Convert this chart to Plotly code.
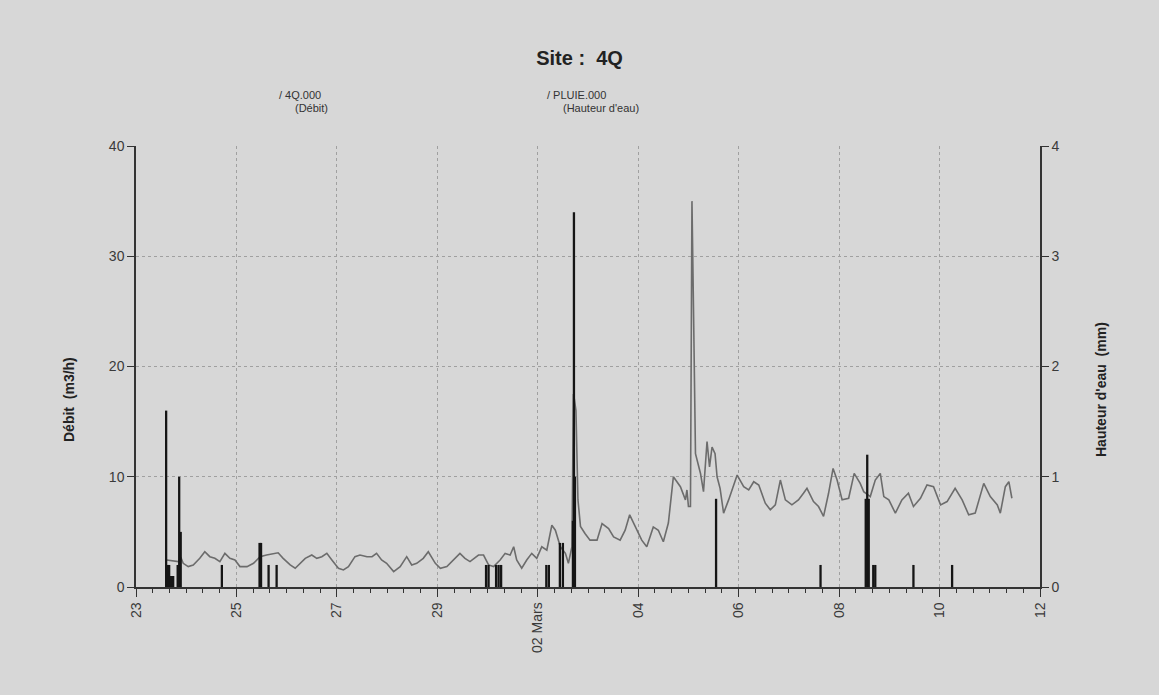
import pandas as pd
import plotly.graph_objects as go

START = pd.Timestamp("2008-02-23")

# Débit (m3/h) – time in days since 23 Feb 00:00
debit_days = [0.61, 0.75, 0.84, 0.90, 0.94, 1.04, 1.14, 1.27, 1.37, 1.47, 1.57, 1.67, 1.77, 1.87, 1.97,
              2.07, 2.21, 2.34, 2.47, 2.60, 2.74, 2.83, 2.93, 3.07, 3.17, 3.27, 3.37, 3.50, 3.60, 3.70,
              3.80, 3.90, 4.03, 4.13, 4.23, 4.36, 4.46, 4.60, 4.70, 4.79, 4.89, 4.99, 5.13, 5.26, 5.39,
              5.49, 5.59, 5.72, 5.82, 5.96, 6.06, 6.19, 6.32, 6.45, 6.55, 6.65, 6.82, 6.92, 7.02, 7.12,
              7.25, 7.35, 7.45, 7.52, 7.58, 7.68, 7.78, 7.88, 7.98, 8.08, 8.18, 8.28, 8.35, 8.45, 8.55,
              8.61, 8.68, 8.71, 8.73, 8.76, 8.80, 8.85, 8.94, 9.04, 9.18, 9.28, 9.41, 9.51, 9.64, 9.74,
              9.83, 9.94, 10.07, 10.17, 10.30, 10.40, 10.50, 10.60, 10.70, 10.84, 10.94, 10.97, 11.00,
              11.04, 11.07, 11.10, 11.14, 11.24, 11.30, 11.37, 11.42, 11.47, 11.53, 11.57, 11.63, 11.70,
              11.80, 11.97, 12.10, 12.20, 12.30, 12.40, 12.53, 12.63, 12.73, 12.83, 12.93, 13.06, 13.19,
              13.29, 13.36, 13.49, 13.59, 13.69, 13.79, 13.88, 13.96, 14.06, 14.19, 14.30, 14.42, 14.49,
              14.62, 14.72, 14.82, 14.89, 14.99, 15.12, 15.25, 15.38, 15.48, 15.62, 15.75, 15.88, 16.02,
              16.15, 16.31, 16.45, 16.58, 16.71, 16.88, 17.01, 17.15, 17.21, 17.31, 17.38, 17.44]
debit_vals = [2.45, 2.4, 2.3, 2.6, 2.15, 1.85, 2.0, 2.6, 3.2, 2.75, 2.6, 2.3, 3.05, 2.6, 2.45,
              1.85, 1.85, 2.15, 2.75, 2.9, 3.05, 3.1, 2.6, 2.0, 1.7, 2.15, 2.6, 2.9, 2.6, 2.75,
              3.05, 2.45, 1.7, 1.55, 1.85, 2.75, 2.9, 2.75, 2.75, 3.05, 2.45, 2.15, 1.4, 1.85, 2.75,
              2.0, 2.15, 2.6, 3.2, 2.15, 1.7, 1.85, 2.45, 3.05, 2.6, 2.3, 2.9, 2.9, 2.0, 1.85,
              2.45, 3.05, 2.9, 3.65, 2.45, 1.7, 2.45, 3.05, 2.6, 3.65, 3.35, 5.6, 5.15, 3.65, 3.05,
              2.15, 3.65, 17.5, 17.0, 16.0, 7.9, 5.5, 4.85, 4.25, 4.25, 5.75, 5.3, 4.55, 4.25, 5.15,
              6.55, 5.45, 4.25, 3.65, 5.45, 5.15, 4.1, 5.8, 10.0, 9.1, 7.9, 8.8, 7.3,
              7.3, 35.0, 25.4, 12.1, 10.3, 8.65, 13.2, 10.9, 12.7, 12.1, 10.0, 8.95, 6.7,
              7.9, 10.15, 9.1, 8.8, 9.55, 9.25, 7.6, 7.0, 7.45, 9.7, 7.9, 7.45, 7.9,
              8.5, 8.95, 7.75, 7.3, 6.4, 8.5, 10.75, 9.7, 7.9, 8.05, 10.3, 9.4, 8.65,
              8.2, 9.7, 10.3, 8.2, 7.9, 6.7, 7.9, 8.5, 7.3, 8.05, 9.25, 9.1, 7.45,
              7.75, 8.95, 7.9, 6.55, 6.7, 9.4, 8.2, 7.45, 6.7, 9.1, 9.55, 8.05]

# Pluie (mm) – time in days since 23 Feb 00:00
pluie_days = [0.60, 0.63, 0.66, 0.70, 0.74, 0.83, 0.86, 0.89, 1.71, 2.46, 2.49, 2.64, 2.80,
              6.97, 7.02, 7.17, 7.22, 7.27, 8.17, 8.22, 8.44, 8.50, 8.70, 8.72, 8.74,
              11.55, 13.63, 14.53, 14.56, 14.59, 14.68, 14.72, 15.48, 16.25]
pluie_vals = [1.6, 0.2, 0.2, 0.1, 0.1, 0.2, 1.0, 0.5, 0.2, 0.4, 0.4, 0.2, 0.2,
              0.2, 0.2, 0.2, 0.2, 0.2, 0.2, 0.2, 0.4, 0.4, 0.6, 3.4, 1.0,
              0.8, 0.2, 0.8, 1.2, 0.8, 0.2, 0.2, 0.2, 0.2]

tick_days = [0, 2, 4, 6, 8, 10, 12, 14, 16, 18]
tick_text = ["23", "25", "27", "29", "02 Mars", "04", "06", "08", "10", "12"]

to_dt = lambda d: START + pd.to_timedelta(d, unit="D")
debit_x = [to_dt(d) for d in debit_days]
pluie_x = [to_dt(d) for d in pluie_days]
tick_x = [to_dt(d) for d in tick_days]

BG = "#d7d7d7"
FONT = "Arial, Liberation Sans, sans-serif"

fig = go.Figure()
fig.add_trace(go.Scatter(x=debit_x, y=debit_vals, mode="lines", name="4Q.000 (Débit)",
                         line=dict(color="#6c6c6c", width=1.6), showlegend=False))
fig.add_trace(go.Bar(x=pluie_x, y=pluie_vals, yaxis="y2", name="PLUIE.000 (Hauteur d'eau)",
                     width=1.1 * 3600 * 1000, marker=dict(color="#151515", line=dict(width=0)),
                     showlegend=False))

fig.update_layout(
    width=1159, height=695,
    paper_bgcolor=BG, plot_bgcolor=BG,
    margin=dict(l=136, r=119, t=146, b=108),
    font=dict(family=FONT, color="#3a3a3a", size=14),
    barmode="overlay",
    title=dict(text="<b>Site :  4Q</b>", x=0.5, xref="container", xanchor="center",
               y=1 - 58 / 695, yref="container", yanchor="middle",
               font=dict(size=20, color="#222222", family=FONT)),
    xaxis=dict(
        type="date", range=[to_dt(0), to_dt(18)],
        tickmode="array", tickvals=tick_x, ticktext=tick_text, tickangle=-90,
        ticks="outside", ticklen=8, tickcolor="#333", tickfont=dict(size=14, color="#3a3a3a"),
        showline=True, linecolor="#333", linewidth=1.5,
        showgrid=True, gridcolor="#a0a0a0", griddash="dot", gridwidth=1,
        minor=dict(ticks="outside", ticklen=4, tickcolor="#333", dtick=8 * 3600 * 1000,
                   showgrid=False),
        zeroline=False,
    ),
    yaxis=dict(
        range=[0, 40], tickvals=[0, 10, 20, 30, 40],
        ticks="outside", ticklen=7, tickcolor="#333", tickfont=dict(size=14, color="#3a3a3a"),
        showline=True, linecolor="#333", linewidth=1.5,
        showgrid=True, gridcolor="#a0a0a0", griddash="dot", gridwidth=1,
        zeroline=False,
    ),
    yaxis2=dict(
        range=[0, 4], tickvals=[0, 1, 2, 3, 4], overlaying="y", side="right",
        ticks="outside", ticklen=7, tickcolor="#333", tickfont=dict(size=14, color="#3a3a3a"),
        showline=True, linecolor="#333", linewidth=1.5,
        showgrid=False, zeroline=False,
    ),
)

annots = [
    dict(text="/ 4Q.000", x=(277 - 136) / 904, y=(587 - 95) / 441),
    dict(text="(Débit)", x=(293 - 136) / 904, y=(587 - 108) / 441),
    dict(text="/ PLUIE.000", x=(545 - 136) / 904, y=(587 - 95) / 441),
    dict(text="(Hauteur d'eau)", x=(561 - 136) / 904, y=(587 - 108) / 441),
]
for a in annots:
    fig.add_annotation(xref="paper", yref="paper", xanchor="left", yanchor="middle",
                       showarrow=False, font=dict(size=11, color="#333", family=FONT), **a)

fig.add_annotation(text="<b>Débit  (m3/h)</b>", xref="paper", yref="paper",
                   x=(59 - 136) / 904, y=(587 - 400) / 441, textangle=-90,
                   showarrow=False, font=dict(size=14, color="#222", family=FONT))
fig.add_annotation(text="<b>Hauteur d'eau  (mm)</b>", xref="paper", yref="paper",
                   x=(1111 - 136) / 904, y=(587 - 390) / 441, textangle=-90,
                   showarrow=False, font=dict(size=14, color="#222", family=FONT))

fig.write_html("out.html")
